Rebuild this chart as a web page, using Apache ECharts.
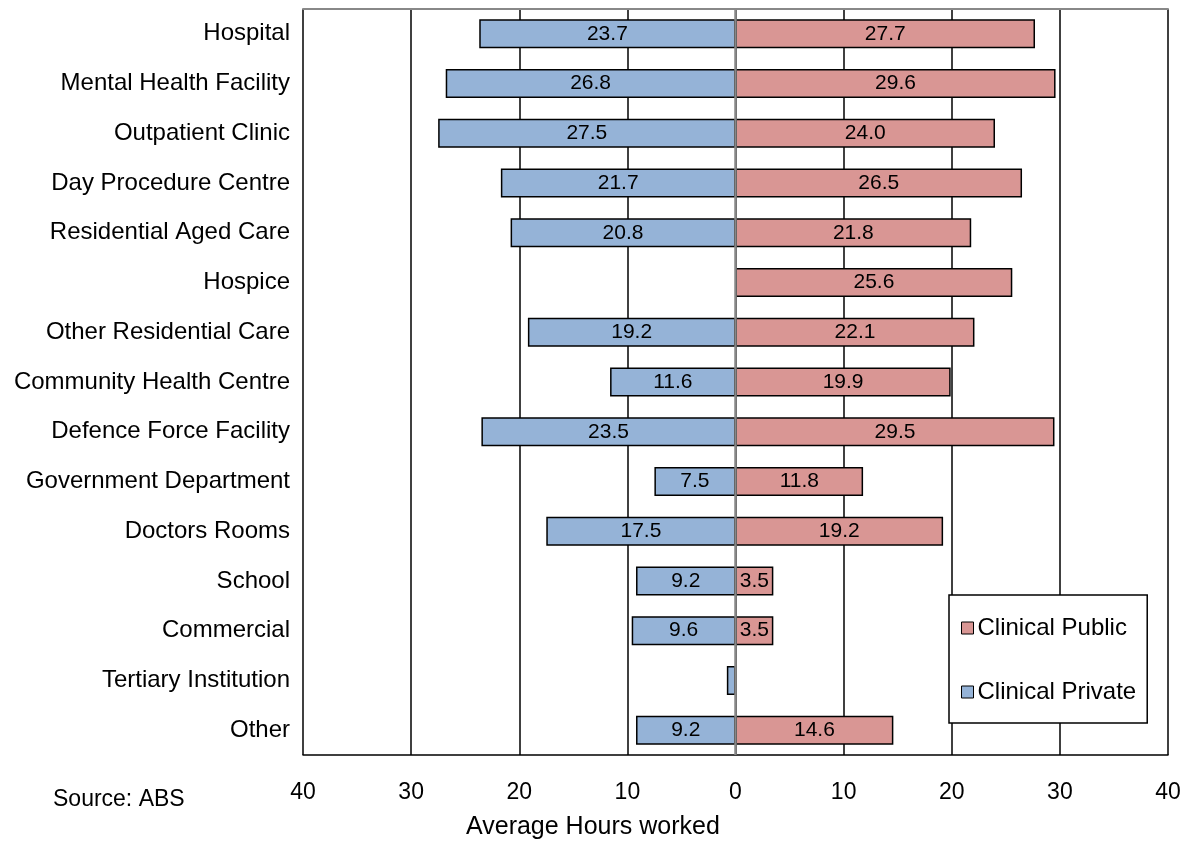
<!DOCTYPE html>
<html>
<head>
<meta charset="utf-8">
<script src="https://cdn.jsdelivr.net/npm/echarts@6/dist/echarts.min.js"></script>
<style>
  html, body { margin: 0; padding: 0; background: #fff; }
  #chart { width: 1193px; height: 844px; }
</style>
</head>
<body>
<div id="chart"></div>
<script>
// categories, top to bottom
const categories = [
  'Hospital', 'Mental Health Facility', 'Outpatient Clinic', 'Day Procedure Centre',
  'Residential Aged Care', 'Hospice', 'Other Residential Care', 'Community Health Centre',
  'Defence Force Facility', 'Government Department', 'Doctors Rooms', 'School',
  'Commercial', 'Tertiary Institution', 'Other'
];
// average hours worked
const clinicalPublic = [27.7, 29.6, 24.0, 26.5, 21.8, 25.6, 22.1, 19.9, 29.5, 11.8, 19.2, 3.5, 3.5, null, 14.6];
const clinicalPrivate = [23.7, 26.8, 27.5, 21.7, 20.8, null, 19.2, 11.6, 23.5, 7.5, 17.5, 9.2, 9.6, 0.8, 9.2];
const xTicks = [-40, -30, -20, -10, 0, 10, 20, 30, 40];

const FONT = '"Liberation Sans", Arial, sans-serif';
const chart = echarts.init(document.getElementById('chart'));

// private goes to the left side, so negate it
const privateLeft = clinicalPrivate.map(v => (v == null ? null : -v));

const labelCfg = {
  show: true,
  position: 'inside',
  color: '#000',
  fontFamily: FONT,
  fontSize: 21,
  formatter: p => (p.value == null || Math.abs(p.value) < 1 ? '' : Math.abs(p.value).toFixed(1))
};

const option = {
  animation: false,
  textStyle: { fontFamily: FONT },
  grid: { left: 303, right: 25, top: 9, bottom: 89 },
  legend: {
    data: ['Clinical Public', 'Clinical Private'],
    orient: 'vertical',
    left: 949,
    top: 595,
    icon: 'rect',
    itemWidth: 12,
    itemHeight: 12,
    itemGap: 40,
    padding: [21, 11, 19, 12],
    borderColor: '#000',
    borderWidth: 1.5,
    backgroundColor: '#fff',
    itemStyle: { borderColor: '#000', borderWidth: 1 },
    textStyle: { fontFamily: FONT, fontSize: 24, color: '#000', padding: [0, 0, 0, -1] }
  },
  xAxis: [
    {
      type: 'value',
      min: xTicks[0],
      max: xTicks[xTicks.length - 1],
      interval: 10,
      axisLine: { show: true, onZero: false, lineStyle: { color: '#000', width: 1.5 } },
      axisTick: { show: false },
      axisLabel: {
        margin: 26,
        fontSize: 23,
        color: '#000',
        fontFamily: FONT,
        formatter: v => String(Math.abs(v))
      },
      splitLine: { show: true, lineStyle: { color: '#000', width: 1.5 } }
    },
    {
      // grey top edge of the plot
      type: 'value',
      position: 'top',
      min: xTicks[0],
      max: xTicks[xTicks.length - 1],
      interval: 10,
      axisLine: { show: true, onZero: false, lineStyle: { color: '#888', width: 2 } },
      axisTick: { show: false },
      axisLabel: { show: false },
      splitLine: { show: false }
    }
  ],
  yAxis: {
    type: 'category',
    data: categories,
    inverse: true,
    axisLine: { show: false },
    axisTick: { show: false },
    axisLabel: { margin: 13, fontSize: 24, color: '#000', fontFamily: FONT }
  },
  series: [
    {
      name: 'Clinical Private',
      type: 'bar',
      stack: 'total',
      barWidth: 29,
      data: privateLeft,
      itemStyle: { color: '#95B3D7', borderColor: '#000', borderWidth: 1.5 },
      label: labelCfg
    },
    {
      name: 'Clinical Public',
      type: 'bar',
      stack: 'total',
      barWidth: 29,
      data: clinicalPublic,
      itemStyle: { color: '#D99694', borderColor: '#000', borderWidth: 1.5 },
      label: labelCfg,
      markLine: {
        silent: true,
        symbol: 'none',
        label: { show: false },
        lineStyle: { color: '#888', width: 2.5, type: 'solid' },
        data: [{ xAxis: 0 }]
      }
    }
  ],
  graphic: [
    {
      type: 'text',
      left: 53,
      top: 788,
      style: { text: 'Source: ABS', font: '23px ' + FONT, fill: '#000' }
    },
    {
      type: 'text',
      left: 466,
      top: 815,
      style: { text: 'Average Hours worked', font: '25px ' + FONT, fill: '#000' }
    }
  ]
};

chart.setOption(option);
</script>
</body>
</html>
